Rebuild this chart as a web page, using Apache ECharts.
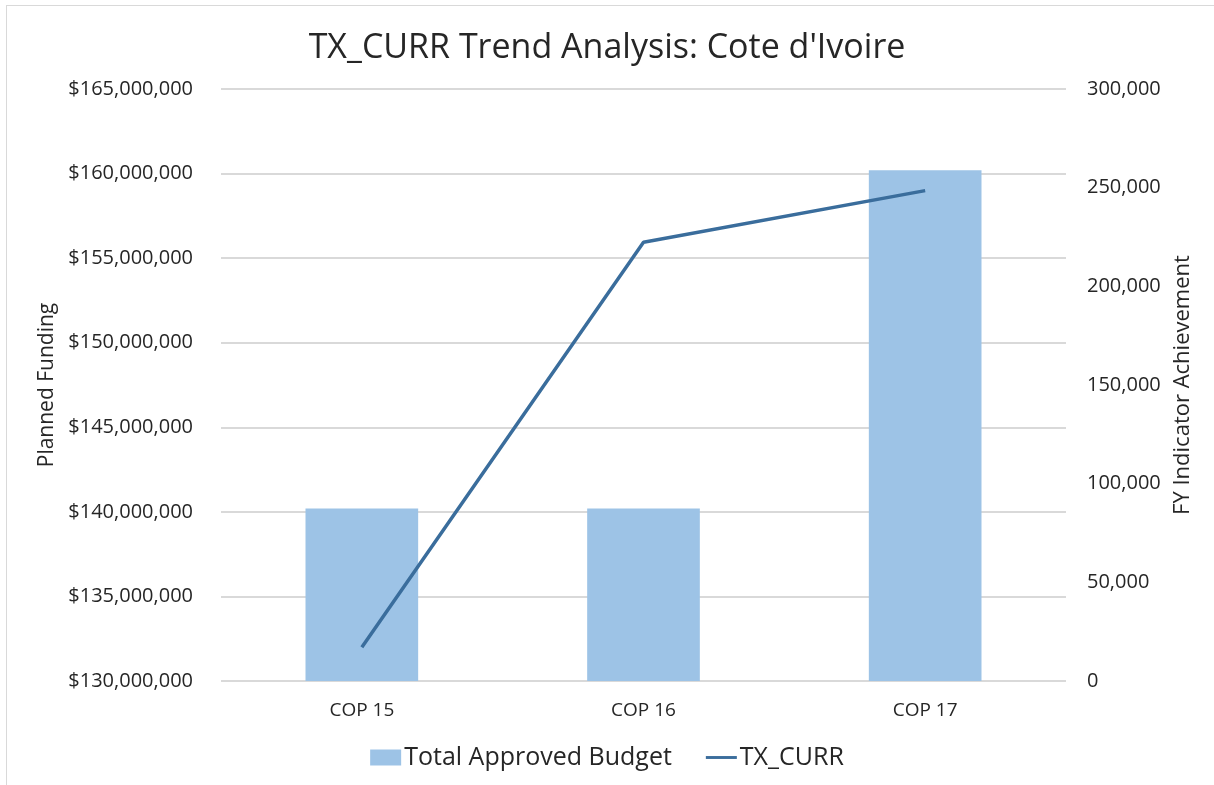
<!DOCTYPE html>
<html>
<head>
<meta charset="utf-8">
<title>TX_CURR Trend Analysis</title>
<script src="https://cdn.jsdelivr.net/npm/echarts@6/dist/echarts.min.js"></script>
<style>
    html, body { margin: 0; padding: 0; background: #ffffff; }
    #frame { position: absolute; left: 6px; top: 5px; width: 1214px; height: 785px;
             border-top: 1px solid #d9d9d9; border-left: 1px solid #d9d9d9; }
    #main { position: absolute; left: 0; top: 0; width: 1214px; height: 785px; }
</style>
</head>
<body>
<div id="frame"></div>
<div id="main"></div>
<script>
    // categories and values
    var categories = ["COP 15", "COP 16", "COP 17"];
    var budget = [140200000, 140200000, 160200000];   // Total Approved Budget (left axis)
    var txCurr = [17100, 222300, 248500];             // TX_CURR (right axis)

    var font = "'Open Sans', sans-serif";
    var textColor = "#262626";

    // $165,000,000 style
    function money(v) {
        return "$" + v.toString().replace(/\B(?=(\d{3})+(?!\d))/g, ",");
    }
    function thousands(v) {
        return v.toString().replace(/\B(?=(\d{3})+(?!\d))/g, ",");
    }

    var myChart = echarts.init(document.getElementById("main"));

    var option = {
        animation: false,
        textStyle: {fontFamily: font, color: textColor},
        title: {
            text: "TX_CURR Trend Analysis: Cote d'Ivoire",
            left: "center",
            top: 26,
            textStyle: {fontFamily: font, fontSize: 34, fontWeight: "normal", color: textColor}
        },
        grid: {
            left: 221,
            right: 148,
            top: 89,
            bottom: 104
        },
        legend: {
            bottom: 10,
            left: "center",
            itemGap: 34,
            itemWidth: 31,
            itemHeight: 16,
            textStyle: {fontFamily: font, fontSize: 25, color: textColor, padding: [0, 0, 0, -2]},
            data: [
                {name: "Total Approved Budget", icon: "rect"},
                // plain line, no marker
                {name: "TX_CURR", icon: "path://M0,0 L32,0 L32,3 L0,3 Z"}
            ]
        },
        xAxis: {
            type: "category",
            data: categories,
            axisLine: {show: false},
            axisTick: {show: false},
            axisLabel: {fontFamily: font, fontSize: 19, color: textColor, margin: 20}
        },
        yAxis: [
            {
                type: "value",
                min: 130000000,
                max: 165000000,
                interval: 5000000,
                name: "Planned Funding",
                nameLocation: "middle",
                nameGap: 162,
                nameTextStyle: {fontFamily: font, fontSize: 21, color: textColor},
                axisLine: {show: false},
                axisTick: {show: false},
                axisLabel: {fontFamily: font, fontSize: 20, color: textColor, margin: 28, formatter: money},
                splitLine: {lineStyle: {color: "#d9d9d9", width: 2}}
            },
            {
                type: "value",
                min: 0,
                max: 300000,
                interval: 50000,
                name: "FY Indicator Achievement",
                nameLocation: "middle",
                nameGap: 105,
                nameTextStyle: {fontFamily: font, fontSize: 22, color: textColor},
                axisLine: {show: false},
                axisTick: {show: false},
                axisLabel: {fontFamily: font, fontSize: 20, color: textColor, margin: 21, formatter: thousands},
                splitLine: {show: false}
            }
        ],
        series: [
            {
                name: "Total Approved Budget",
                type: "bar",
                yAxisIndex: 0,
                data: budget,
                barWidth: "40%",
                itemStyle: {color: "#9dc3e6"}
            },
            {
                name: "TX_CURR",
                type: "line",
                yAxisIndex: 1,
                data: txCurr,
                symbol: "none",
                lineStyle: {color: "#3a6d9c", width: 3.5},
                itemStyle: {color: "#3a6d9c"}
            }
        ]
    };

    myChart.setOption(option);
</script>
</body>
</html>
